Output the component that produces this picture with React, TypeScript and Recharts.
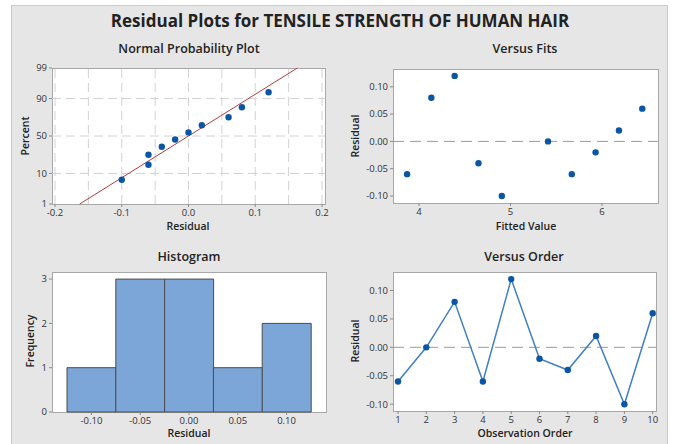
import React from 'react';
import {
  ScatterChart, Scatter, LineChart, Line, BarChart, Bar,
  XAxis, YAxis, ReferenceLine
} from 'recharts';

// residuals (sorted) and their median-rank probabilities (%)
const probResiduals = [-0.1, -0.06, -0.06, -0.04, -0.02, 0.0, 0.02, 0.06, 0.08, 0.12];
const probPercent = [6.7, 16.3, 26.0, 35.6, 45.2, 54.8, 64.4, 74.0, 83.7, 93.3];
const probTicks = [1, 10, 50, 90, 99];
const probGridPct = [10, 50, 90];
const probGridX = [-0.2, -0.15, -0.1, -0.05, 0, 0.05, 0.1, 0.15, 0.2];
const probXTicks = [-0.2, -0.1, 0, 0.1, 0.2];
// fitted normal line, read at the 1% and 99% edges
const fitLineX = [-0.163, 0.163];
const fitLinePct = [1, 99];

const fittedValues = [3.87, 4.135, 4.39, 4.65, 4.905, 5.41, 5.67, 5.93, 6.185, 6.44];
const fitsResiduals = [-0.06, 0.08, 0.12, -0.04, -0.1, 0.0, -0.06, -0.02, 0.02, 0.06];
const fitsXTicks = [4, 5, 6];

const histBins = ['-0.10', '-0.05', '0.00', '0.05', '0.10'];
const histCounts = [1, 3, 3, 1, 2];
const histYTicks = [0, 1, 2, 3];

const orderIdx = [1, 2, 3, 4, 5, 6, 7, 8, 9, 10];
const orderResiduals = [-0.06, 0.0, 0.08, -0.06, 0.12, -0.02, -0.04, 0.02, -0.1, 0.06];

const residTicks = [-0.1, -0.05, 0, 0.05, 0.1];

const FONT = "'Open Sans', 'Noto Sans', sans-serif";
const DOT = '#0b56a4';
const tickStyle = { fontSize: 9.5, fill: '#333', fontFamily: FONT };

// inverse standard normal (Acklam) - probability axis transform
function normInv(p: number): number {
  const a = [-39.6968302866538, 220.946098424521, -275.928510446969, 138.357751867269, -30.6647980661472, 2.50662827745924];
  const b = [-54.4760987982241, 161.585836858041, -155.698979859887, 66.8013118877197, -13.2806815528857];
  const c = [-0.00778489400243029, -0.322396458041136, -2.40075827716184, -2.54973253934373, 4.37466414146497, 2.93816398269878];
  const d = [0.00778469570904146, 0.32246712907004, 2.445134137143, 3.75440866190742];
  const pl = 0.02425;
  if (p < pl) {
    const q = Math.sqrt(-2 * Math.log(p));
    return (((((c[0] * q + c[1]) * q + c[2]) * q + c[3]) * q + c[4]) * q + c[5]) / ((((d[0] * q + d[1]) * q + d[2]) * q + d[3]) * q + 1);
  }
  if (p > 1 - pl) {
    const q = Math.sqrt(-2 * Math.log(1 - p));
    return -(((((c[0] * q + c[1]) * q + c[2]) * q + c[3]) * q + c[4]) * q + c[5]) / ((((d[0] * q + d[1]) * q + d[2]) * q + d[3]) * q + 1);
  }
  const q = p - 0.5;
  const r = q * q;
  return (((((a[0] * r + a[1]) * r + a[2]) * r + a[3]) * r + a[4]) * r + a[5]) * q / (((((b[0] * r + b[1]) * r + b[2]) * r + b[3]) * r + b[4]) * r + 1);
}
const z = (pct: number) => normInv(pct / 100);
const pctOfZ = (v: number) => {
  const hit = probTicks.find(t => Math.abs(z(t) - v) < 1e-6);
  return hit === undefined ? '' : String(hit);
};

const probData = probResiduals.map((r, i) => ({ x: r, y: z(probPercent[i]) }));
const fitLineData = fitLineX.map((x, i) => ({ x, y: z(fitLinePct[i]) }));
const fitsData = fittedValues.map((f, i) => ({ x: f, y: fitsResiduals[i] }));
const histData = histBins.map((b, i) => ({ bin: b, count: histCounts[i] }));
const orderData = orderIdx.map((o, i) => ({ order: o, res: orderResiduals[i] }));

type Rect = { x: number; y: number; w: number; h: number };
type Box = { left: number; top: number; width: number; height: number };

const X_AXIS_H = 18;

function margins(box: Box, plot: Rect) {
  return {
    top: plot.y - box.top,
    left: 0,
    right: box.left + box.width - (plot.x + plot.w),
    bottom: box.top + box.height - (plot.y + plot.h) - X_AXIS_H,
  };
}

const dotShape = (p: any) => <circle cx={p.cx} cy={p.cy} r={3.2} fill={DOT} />;
const emptyShape = () => <g />;

function Text({ x, y, children, size = 11, weight = 600, rotate = false }: any) {
  return (
    <div style={{
      position: 'absolute', left: x, top: y, whiteSpace: 'nowrap',
      transform: `translate(-50%, -50%)${rotate ? ' rotate(-90deg)' : ''}`,
      fontFamily: FONT, fontSize: size, fontWeight: weight, color: '#222', lineHeight: 1,
    }}>{children}</div>
  );
}

function PlotBg({ plot }: { plot: Rect }) {
  return (
    <div style={{
      position: 'absolute', left: plot.x, top: plot.y, width: plot.w + 1, height: plot.h + 1,
      boxSizing: 'border-box', background: '#fff', border: '1px solid #a8a8a8',
    }} />
  );
}

const P1: Rect = { x: 52, y: 68, w: 273, h: 136 };
const B1: Box = { left: 12, top: 40, width: 330, height: 180 };
const P2: Rect = { x: 393, y: 69, w: 265, h: 134 };
const B2: Box = { left: 345, top: 40, width: 320, height: 180 };
const P3: Rect = { x: 52, y: 272, w: 274, h: 140 };
const B3: Box = { left: 12, top: 250, width: 330, height: 180 };
const P4: Rect = { x: 393, y: 272, w: 263, h: 139 };
const B4: Box = { left: 345, top: 250, width: 320, height: 180 };

const abs = (b: Box): React.CSSProperties => ({ position: 'absolute', left: b.left, top: b.top });

const axisCommon = {
  axisLine: false,
  tickLine: { stroke: '#8a8a8a' },
  tickSize: 3,
  tick: tickStyle,
};

const fmt2 = (v: number) => (Math.abs(v) < 1e-9 ? '0.00' : v.toFixed(2));
const fmt1 = (v: number) => (Math.abs(v) < 1e-9 ? '0.0' : v.toFixed(1));

export default function App() {
  return (
    <div style={{ position: 'absolute', left: 0, top: 0, width: 676, height: 444, background: '#fff', overflow: 'hidden' }}>
      <div style={{
        position: 'absolute', left: 11, top: 5, width: 657, height: 445,
        boxSizing: 'border-box', background: '#e6e6e6', border: '1px solid #cbcbcb',
      }} />

      <Text x={340} y={20} size={17} weight={700}>Residual Plots for TENSILE STRENGTH OF HUMAN HAIR</Text>

      {/* Normal Probability Plot */}
      <Text x={189} y={49} size={12.5}>Normal Probability Plot</Text>
      <PlotBg plot={P1} />
      <div style={abs(B1)}>
        <ScatterChart width={B1.width} height={B1.height} margin={margins(B1, P1)}>
          <XAxis type="number" dataKey="x" domain={[-0.2045, 0.2045]} ticks={probXTicks}
            tickFormatter={fmt1} height={X_AXIS_H} {...axisCommon} />
          <YAxis type="number" dataKey="y" domain={[z(1), z(99)]} ticks={probTicks.map(z)}
            tickFormatter={pctOfZ} width={P1.x - B1.left} {...axisCommon} />
          {probGridX.map(g => (
            <ReferenceLine key={`gx${g}`} x={g} stroke="#d2d2d2" strokeDasharray="9 5" />
          ))}
          {probGridPct.map(g => (
            <ReferenceLine key={`gy${g}`} y={z(g)} stroke="#d2d2d2" strokeDasharray="9 5" />
          ))}
          <Scatter data={fitLineData} line={{ stroke: '#b33a3a', strokeWidth: 1 }} shape={emptyShape} isAnimationActive={false} />
          <Scatter data={probData} shape={dotShape} isAnimationActive={false} />
        </ScatterChart>
      </div>
      <Text x={25} y={136} size={10.5} rotate>Percent</Text>
      <Text x={188} y={226} size={10.5}>Residual</Text>

      {/* Versus Fits */}
      <Text x={525} y={49} size={12.5}>Versus Fits</Text>
      <PlotBg plot={P2} />
      <div style={abs(B2)}>
        <ScatterChart width={B2.width} height={B2.height} margin={margins(B2, P2)}>
          <XAxis type="number" dataKey="x" domain={[3.716, 6.612]} ticks={fitsXTicks}
            height={X_AXIS_H} {...axisCommon} />
          <YAxis type="number" dataKey="y" domain={[-0.1128, 0.1326]} ticks={residTicks}
            tickFormatter={fmt2} width={P2.x - B2.left} {...axisCommon} />
          <ReferenceLine y={0} stroke="#9a9a9a" strokeDasharray="11 6" />
          <Scatter data={fitsData} shape={dotShape} isAnimationActive={false} />
        </ScatterChart>
      </div>
      <Text x={355} y={136} size={10.5} rotate>Residual</Text>
      <Text x={526} y={226} size={10.5}>Fitted Value</Text>

      {/* Histogram */}
      <Text x={189} y={257} size={12.5}>Histogram</Text>
      <PlotBg plot={P3} />
      <div style={abs(B3)}>
        <BarChart width={B3.width} height={B3.height} data={histData} margin={margins(B3, P3)}
          barCategoryGap={0} barGap={0}>
          <XAxis dataKey="bin" padding={{ left: 15, right: 15 }} height={X_AXIS_H} {...axisCommon} />
          <YAxis type="number" domain={[0, 3.16]} ticks={histYTicks} width={P3.x - B3.left} {...axisCommon} />
          <Bar dataKey="count" fill="#7ca6d8" stroke="#4a4a4a" strokeWidth={1} isAnimationActive={false} />
        </BarChart>
      </div>
      <Text x={30} y={341} size={10.5} rotate>Frequency</Text>
      <Text x={189} y={433} size={10.5}>Residual</Text>

      {/* Versus Order */}
      <Text x={524} y={257} size={12.5}>Versus Order</Text>
      <PlotBg plot={P4} />
      <div style={abs(B4)}>
        <LineChart width={B4.width} height={B4.height} data={orderData} margin={margins(B4, P4)}>
          <XAxis type="number" dataKey="order" domain={[0.823, 10.117]} ticks={orderIdx}
            height={X_AXIS_H} {...axisCommon} />
          <YAxis type="number" domain={[-0.112, 0.1325]} ticks={residTicks}
            tickFormatter={fmt2} width={P4.x - B4.left} {...axisCommon} />
          <ReferenceLine y={0} stroke="#9a9a9a" strokeDasharray="11 6" />
          <Line type="linear" dataKey="res" stroke="#3f7fc6" strokeWidth={1.5}
            dot={dotShape} activeDot={false} isAnimationActive={false} />
        </LineChart>
      </div>
      <Text x={355} y={341} size={10.5} rotate>Residual</Text>
      <Text x={525} y={433} size={10.5}>Observation Order</Text>
    </div>
  );
}
